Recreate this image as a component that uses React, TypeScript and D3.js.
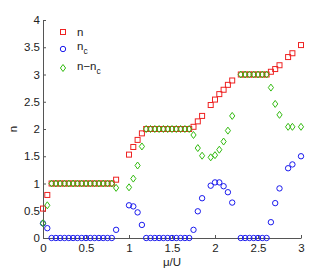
import * as d3 from "d3";
import { useRef, useEffect } from "react";

// chemical potential mu/U
const mu = [
  0, 0.05, 0.1, 0.15, 0.2, 0.25, 0.3, 0.35, 0.4, 0.45, 0.5, 0.55, 0.6, 0.65, 0.7, 0.75, 0.8, 0.85,
  1.0, 1.05, 1.1, 1.15,
  1.2, 1.25, 1.3, 1.35, 1.4, 1.45, 1.5, 1.55, 1.6, 1.65, 1.7,
  1.75, 1.8, 1.85,
  1.95, 2.0, 2.05, 2.1, 2.15, 2.2,
  2.3, 2.35, 2.4, 2.45, 2.5, 2.55, 2.6,
  2.65, 2.7, 2.75, 2.85, 2.9, 3.0
];
const nTotal = [
  0.54, 0.79, 1, 1, 1, 1, 1, 1, 1, 1, 1, 1, 1, 1, 1, 1, 1, 1.07,
  1.53, 1.67, 1.8, 1.92,
  2, 2, 2, 2, 2, 2, 2, 2, 2, 2, 2,
  2.04, 2.14, 2.24,
  2.44, 2.54, 2.64, 2.72, 2.81, 2.89,
  3, 3, 3, 3, 3, 3, 3,
  3.05, 3.1, 3.17, 3.32, 3.39, 3.54
];
const nCond = [
  0.27, 0.18, 0, 0, 0, 0, 0, 0, 0, 0, 0, 0, 0, 0, 0, 0, 0, 0.15,
  0.6, 0.58, 0.47, 0.24,
  0, 0, 0, 0, 0, 0, 0, 0, 0, 0, 0,
  0.15, 0.49, 0.73,
  0.96, 1.02, 1.02, 0.95, 0.84, 0.65,
  0, 0, 0, 0, 0, 0, 0,
  0.29, 0.64, 0.91, 1.28, 1.35, 1.5
];
const nDiff = [
  0.27, 0.6, 1, 1, 1, 1, 1, 1, 1, 1, 1, 1, 1, 1, 1, 1, 1, 0.92,
  0.93, 1.09, 1.33, 1.68,
  2, 2, 2, 2, 2, 2, 2, 2, 2, 2, 2,
  1.89, 1.65, 1.51,
  1.48, 1.52, 1.62, 1.77, 1.97, 2.24,
  3, 3, 3, 3, 3, 3, 3,
  2.76, 2.46, 2.26, 2.04, 2.04, 2.04
];
const xTicks = [0, 0.5, 1, 1.5, 2, 2.5, 3];
const yTicks = [0, 0.5, 1, 1.5, 2, 2.5, 3, 3.5, 4];

const width = 332;
const height = 269;
const font = "'Liberation Sans', Arial, sans-serif";
const red = "#ee2222";
const blue = "#1a1aee";
const green = "#33bb11";

function Square({ cx, cy }) {
  return <rect x={cx - 2.5} y={cy - 2.5} width={5} height={5} fill="none" stroke={red} strokeWidth={1} />;
}
function Circle({ cx, cy }) {
  return <circle cx={cx} cy={cy} r={2.7} fill="none" stroke={blue} strokeWidth={1} />;
}
function Diamond({ cx, cy }) {
  return (
    <path
      d={`M${cx},${cy - 3.5}L${cx + 2.6},${cy}L${cx},${cy + 3.5}L${cx - 2.6},${cy}Z`}
      fill="none"
      stroke={green}
      strokeWidth={1}
    />
  );
}

export default function App() {
  const gx = useRef(null);
  const gy = useRef(null);
  const x = d3.scaleLinear([0, 3], [43, 301]);
  const y = d3.scaleLinear([0, 4], [238, 20]);

  useEffect(() => {
    const ax = d3.select(gx.current);
    ax.call(
      d3.axisBottom(x).tickValues(xTicks).tickFormat(d => String(d)).tickSize(-3).tickSizeOuter(0).tickPadding(6)
    );
    const ay = d3.select(gy.current);
    ay.call(
      d3.axisLeft(y).tickValues(yTicks).tickFormat(d => String(d)).tickSize(-3).tickSizeOuter(0).tickPadding(3)
    );
    for (const g of [ax, ay]) {
      g.selectAll("path,line").attr("stroke", "#555");
      g.selectAll("text").attr("fill", "#222").attr("font-size", 11.5).attr("font-family", font);
    }
  }, []);

  return (
    <svg width={width} height={height} style={{ position: "fixed", left: 0, top: 0, background: "white" }}>
      <g ref={gx} transform="translate(0,238)" />
      <g ref={gy} transform="translate(43,0)" />
      <text x={172} y={266} textAnchor="middle" fontFamily={font} fontSize={11.5} fill="#222">μ/U</text>
      <text transform="translate(17,129) rotate(-90)" textAnchor="middle" fontFamily={font} fontSize={11.5} fill="#222">n</text>

      <g>
        {mu.map((m, i) => <Square key={i} cx={x(m)} cy={y(nTotal[i])} />)}
      </g>
      <g>
        {mu.map((m, i) => <Circle key={i} cx={x(m)} cy={y(nCond[i])} />)}
      </g>
      <g>
        {mu.map((m, i) => <Diamond key={i} cx={x(m)} cy={y(nDiff[i])} />)}
      </g>

      <g fontFamily={font} fontSize={11.5} fill="#222">
        <Square cx={63} cy={32} />
        <text x={77} y={36}>n</text>
        <Circle cx={63} cy={49} />
        <text x={77} y={50}>n<tspan fontSize={8.5} dy={4}>c</tspan></text>
        <Diamond cx={63} cy={68} />
        <text x={77} y={70}>n−n<tspan fontSize={8.5} dy={4}>c</tspan></text>
      </g>
    </svg>
  );
}
